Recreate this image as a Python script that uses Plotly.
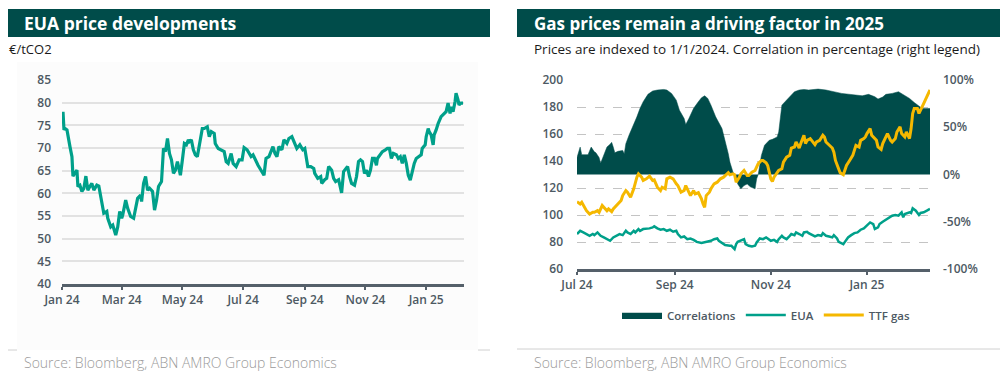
import plotly.graph_objects as go

# ---------------- Data: left chart (EUA price, EUR/tCO2) ----------------
eua_dates = [
    "2024-01-02", "2024-01-03", "2024-01-04", "2024-01-06", "2024-01-09", "2024-01-11", "2024-01-12",
    "2024-01-14", "2024-01-16", "2024-01-17", "2024-01-19", "2024-01-21", "2024-01-23", "2024-01-25",
    "2024-01-27", "2024-01-29", "2024-01-31", "2024-02-02", "2024-02-05", "2024-02-07", "2024-02-10",
    "2024-02-12", "2024-02-15", "2024-02-16", "2024-02-19", "2024-02-21", "2024-02-24", "2024-02-26",
    "2024-02-28", "2024-03-01", "2024-03-02", "2024-03-05", "2024-03-07", "2024-03-10", "2024-03-13",
    "2024-03-15", "2024-03-17", "2024-03-20", "2024-03-21", "2024-03-23", "2024-03-25", "2024-03-27",
    "2024-03-29", "2024-04-01", "2024-04-03", "2024-04-05", "2024-04-07", "2024-04-10", "2024-04-12",
    "2024-04-14", "2024-04-16", "2024-04-18", "2024-04-20", "2024-04-22", "2024-04-24", "2024-04-26",
    "2024-04-28", "2024-04-29", "2024-05-01", "2024-05-03", "2024-05-05", "2024-05-07", "2024-05-08",
    "2024-05-10", "2024-05-12", "2024-05-14", "2024-05-16", "2024-05-18", "2024-05-21", "2024-05-23",
    "2024-05-26", "2024-05-28", "2024-05-30", "2024-06-02", "2024-06-03", "2024-06-06", "2024-06-09",
    "2024-06-12", "2024-06-14", "2024-06-16", "2024-06-19", "2024-06-21", "2024-06-24", "2024-06-27",
    "2024-06-30", "2024-07-02", "2024-07-05", "2024-07-09", "2024-07-11", "2024-07-13", "2024-07-16",
    "2024-07-19", "2024-07-22", "2024-07-24", "2024-07-27", "2024-07-31", "2024-08-02", "2024-08-04",
    "2024-08-06", "2024-08-09", "2024-08-11", "2024-08-14", "2024-08-16", "2024-08-19", "2024-08-21",
    "2024-08-24", "2024-08-27", "2024-08-30", "2024-09-01", "2024-09-04", "2024-09-07", "2024-09-10",
    "2024-09-11", "2024-09-14", "2024-09-17", "2024-09-18", "2024-09-21", "2024-09-23", "2024-09-25",
    "2024-09-28", "2024-09-30", "2024-10-02", "2024-10-05", "2024-10-07", "2024-10-08", "2024-10-10",
    "2024-10-12", "2024-10-14", "2024-10-16", "2024-10-18", "2024-10-21", "2024-10-23", "2024-10-25",
    "2024-10-27", "2024-10-29", "2024-10-31", "2024-11-02", "2024-11-04", "2024-11-06", "2024-11-08",
    "2024-11-10", "2024-11-12", "2024-11-13", "2024-11-16", "2024-11-18", "2024-11-21", "2024-11-23",
    "2024-11-25", "2024-11-27", "2024-11-29", "2024-12-02", "2024-12-04", "2024-12-06", "2024-12-08",
    "2024-12-10", "2024-12-12", "2024-12-14", "2024-12-16", "2024-12-18", "2024-12-20", "2024-12-22",
    "2024-12-25", "2024-12-27", "2024-12-28", "2024-12-31", "2025-01-01", "2025-01-03", "2025-01-04",
    "2025-01-06", "2025-01-08", "2025-01-09", "2025-01-11", "2025-01-13", "2025-01-16", "2025-01-19",
    "2025-01-21", "2025-01-23", "2025-01-25", "2025-01-26", "2025-01-28", "2025-01-30", "2025-01-31",
    "2025-02-02", "2025-02-03", "2025-02-05", "2025-02-07",
]
eua_values = [
    78.0, 74.0, 74.3, 74.0, 70.3, 68.1, 63.8,
    64.4, 65.1, 61.5, 61.8, 60.4, 61.1, 63.8,
    60.7, 61.5, 62.2, 60.7, 61.8, 61.6, 57.8,
    55.6, 56.0, 54.5, 52.6, 53.0, 50.8, 52.6,
    56.0, 54.5, 55.2, 58.5, 56.7, 54.9, 54.5,
    57.1, 58.9, 59.6, 58.2, 62.2, 63.7, 60.7,
    61.1, 60.4, 56.3, 58.5, 61.5, 62.6, 69.9,
    69.2, 72.1, 68.8, 67.4, 64.4, 65.1, 67.0,
    65.1, 64.0, 67.4, 71.0, 70.7, 71.8, 71.4,
    71.8, 69.6, 68.5, 68.1, 70.3, 74.3, 74.3,
    74.7, 72.5, 73.6, 73.2, 71.0, 69.9, 69.6,
    69.2, 67.0, 66.6, 68.8, 66.6, 65.9, 67.4,
    67.4, 70.1, 69.6, 68.1, 68.5, 67.4, 66.2,
    65.1, 64.0, 67.7, 68.1, 70.3, 68.8, 68.1,
    70.3, 69.6, 71.8, 71.0, 72.1, 72.5, 71.4,
    69.9, 70.7, 69.6, 69.9, 65.9, 65.9, 65.5,
    64.4, 63.3, 63.7, 62.2, 63.0, 63.3, 65.9,
    65.1, 63.3, 62.6, 63.0, 61.1, 60.1, 64.8,
    65.5, 65.9, 63.7, 62.2, 61.8, 63.7, 67.0,
    67.4, 67.0, 64.4, 65.1, 63.7, 65.1, 67.7,
    67.7, 66.2, 67.7, 68.5, 69.2, 69.6, 69.9,
    69.9, 67.7, 68.8, 68.5, 67.7, 68.1, 66.6,
    68.5, 66.6, 64.0, 62.9, 65.1, 66.6, 67.7,
    68.1, 68.5, 69.9, 70.7, 72.5, 74.3, 73.6,
    72.9, 70.7, 72.9, 74.0, 75.4, 76.9, 77.6,
    78.0, 79.9, 77.6, 79.1, 78.0, 80.2, 82.1,
    80.6, 79.5, 79.9, 79.9,
]
left_y_ticks = [40, 45, 50, 55, 60, 65, 70, 75, 80, 85]

# ---------------- Data: right chart ----------------
corr_dates = [
    "2024-07-01", "2024-07-02", "2024-07-03", "2024-07-04", "2024-07-06", "2024-07-08", "2024-07-10",
    "2024-07-12", "2024-07-13", "2024-07-15", "2024-07-16", "2024-07-18", "2024-07-20", "2024-07-22",
    "2024-07-23", "2024-07-24", "2024-07-25", "2024-07-27", "2024-07-30", "2024-07-31", "2024-08-01",
    "2024-08-03", "2024-08-05", "2024-08-08", "2024-08-10", "2024-08-12", "2024-08-15", "2024-08-18",
    "2024-08-21", "2024-08-25", "2024-08-27", "2024-08-30", "2024-09-02", "2024-09-04", "2024-09-07",
    "2024-09-08", "2024-09-10", "2024-09-13", "2024-09-16", "2024-09-18", "2024-09-20", "2024-09-22",
    "2024-09-24", "2024-09-27", "2024-10-01", "2024-10-03", "2024-10-05", "2024-10-06", "2024-10-08",
    "2024-10-09", "2024-10-11", "2024-10-13", "2024-10-15", "2024-10-17", "2024-10-19", "2024-10-22",
    "2024-10-23", "2024-10-24", "2024-10-25", "2024-10-26", "2024-10-28", "2024-10-31", "2024-11-02",
    "2024-11-05", "2024-11-06", "2024-11-07", "2024-11-08", "2024-11-10", "2024-11-12", "2024-11-14",
    "2024-11-16", "2024-11-19", "2024-11-22", "2024-11-25", "2024-11-28", "2024-12-01", "2024-12-06",
    "2024-12-10", "2024-12-13", "2024-12-16", "2024-12-20", "2024-12-25", "2024-12-29", "2025-01-02",
    "2025-01-06", "2025-01-08", "2025-01-11", "2025-01-13", "2025-01-17", "2025-01-21", "2025-01-24",
    "2025-01-28", "2025-01-31", "2025-02-03", "2025-02-05", "2025-02-07", "2025-02-10",
]
corr_values = [
    18, 25, 29, 21, 21, 21, 29,
    24, 23, 18, 12, 21, 29, 32,
    34, 29, 23, 24.5, 25.5, 22, 32.6,
    41.5, 48.6, 61, 70, 77, 84.8, 88.3,
    89.4, 90, 89.4, 85.8, 78.7, 68, 59.2,
    52.8, 59.2, 70, 77, 81.2, 83.3, 80.5,
    73.4, 61, 48.6, 36.2, 22, 13.1, 2.5,
    0, -10, -15.2, -11.7, -10, -13, -15.2,
    -4.6, 0, 11.3, 20.2, 30.9, 36.2, 37.2,
    39.7, 45, 62.8, 73.4, 77, 80.5, 84,
    87.6, 89.4, 90, 89.4, 90, 90.4, 89.4,
    88.3, 86.9, 85.8, 84.8, 84, 83.3, 84.8,
    82.3, 79.8, 82, 84.8, 85.8, 87.6, 84.8,
    80.5, 76.2, 72.7, 69.9, 69.9, 69.9,
]

ttf_dates = [
    "2024-07-01", "2024-07-03", "2024-07-04", "2024-07-06", "2024-07-07", "2024-07-09", "2024-07-11",
    "2024-07-12", "2024-07-14", "2024-07-15", "2024-07-17", "2024-07-18", "2024-07-20", "2024-07-21",
    "2024-07-23", "2024-07-24", "2024-07-26", "2024-07-28", "2024-07-29", "2024-07-30", "2024-08-01",
    "2024-08-02", "2024-08-04", "2024-08-06", "2024-08-07", "2024-08-08", "2024-08-09", "2024-08-11",
    "2024-08-12", "2024-08-14", "2024-08-16", "2024-08-18", "2024-08-19", "2024-08-21", "2024-08-23",
    "2024-08-24", "2024-08-26", "2024-08-27", "2024-08-29", "2024-08-31", "2024-09-02", "2024-09-03",
    "2024-09-05", "2024-09-07", "2024-09-08", "2024-09-09", "2024-09-11", "2024-09-13", "2024-09-14",
    "2024-09-16", "2024-09-18", "2024-09-19", "2024-09-20", "2024-09-21", "2024-09-23", "2024-09-24",
    "2024-09-26", "2024-09-28", "2024-09-30", "2024-10-02", "2024-10-05", "2024-10-06", "2024-10-08",
    "2024-10-09", "2024-10-10", "2024-10-12", "2024-10-13", "2024-10-15", "2024-10-17", "2024-10-18",
    "2024-10-20", "2024-10-22", "2024-10-24", "2024-10-26", "2024-10-27", "2024-10-29", "2024-10-30",
    "2024-11-01", "2024-11-02", "2024-11-03", "2024-11-05", "2024-11-06", "2024-11-08", "2024-11-09",
    "2024-11-11", "2024-11-13", "2024-11-14", "2024-11-16", "2024-11-17", "2024-11-19", "2024-11-20",
    "2024-11-22", "2024-11-23", "2024-11-24", "2024-11-26", "2024-11-28", "2024-11-29", "2024-11-30",
    "2024-12-02", "2024-12-04", "2024-12-05", "2024-12-06", "2024-12-08", "2024-12-10", "2024-12-11",
    "2024-12-12", "2024-12-14", "2024-12-15", "2024-12-17", "2024-12-18", "2024-12-19", "2024-12-21",
    "2024-12-23", "2024-12-24", "2024-12-25", "2024-12-27", "2024-12-28", "2024-12-30", "2024-12-31",
    "2025-01-01", "2025-01-03", "2025-01-04", "2025-01-06", "2025-01-07", "2025-01-08", "2025-01-10",
    "2025-01-11", "2025-01-13", "2025-01-14", "2025-01-16", "2025-01-17", "2025-01-19", "2025-01-20",
    "2025-01-22", "2025-01-23", "2025-01-25", "2025-01-26", "2025-01-28", "2025-01-29", "2025-01-30",
    "2025-01-31", "2025-02-02", "2025-02-03", "2025-02-05", "2025-02-06", "2025-02-08", "2025-02-10",
]
ttf_values = [
    109.9, 108.2, 109.4, 105.7, 103.2, 100.7, 102.0,
    102.0, 103.2, 102.0, 107.0, 105.7, 103.2, 104.5,
    102.5, 104.5, 107.0, 109.4, 110.7, 114.4, 118.1,
    116.9, 113.2, 119.4, 124.3, 128.0, 130.5, 128.0,
    125.6, 126.8, 128.8, 125.6, 126.0, 120.6, 118.1,
    120.6, 119.4, 126.8, 128.0, 126.8, 123.1, 121.8,
    116.9, 118.1, 121.8, 119.4, 114.4, 118.1, 115.6,
    116.5, 111.9, 108.2, 105.7, 114.4, 116.9, 119.4,
    123.1, 124.3, 126.8, 128.0, 131.3, 129.8, 130.5,
    129.8, 124.3, 128.0, 130.5, 133.0, 129.3, 129.3,
    131.7, 133.0, 138.0, 140.4, 140.4, 138.7, 136.7,
    126.8, 124.8, 128.0, 131.7, 133.0, 134.2, 139.2,
    142.9, 144.2, 149.6, 150.4, 154.1, 149.6, 152.9,
    159.1, 152.9, 155.3, 156.6, 154.1, 152.1, 154.1,
    155.3, 159.1, 157.8, 154.1, 151.6, 149.6, 146.6,
    140.4, 134.2, 131.3, 129.8, 133.0, 136.7, 140.4,
    144.2, 147.9, 151.6, 150.4, 155.3, 156.6, 157.8,
    160.3, 164.0, 159.1, 156.6, 155.3, 150.4, 148.6,
    152.9, 157.8, 160.3, 155.3, 154.1, 156.6, 161.5,
    165.3, 160.3, 157.8, 161.5, 156.6, 164.0, 175.2,
    178.9, 178.9, 175.2, 180.1, 182.6, 188.8, 192.6,
]

eua_idx_dates = [
    "2024-07-01", "2024-07-03", "2024-07-05", "2024-07-07", "2024-07-09", "2024-07-11", "2024-07-12",
    "2024-07-14", "2024-07-16", "2024-07-18", "2024-07-20", "2024-07-22", "2024-07-24", "2024-07-26",
    "2024-07-28", "2024-07-30", "2024-08-01", "2024-08-02", "2024-08-04", "2024-08-06", "2024-08-07",
    "2024-08-09", "2024-08-10", "2024-08-12", "2024-08-14", "2024-08-16", "2024-08-18", "2024-08-19",
    "2024-08-21", "2024-08-23", "2024-08-25", "2024-08-27", "2024-08-29", "2024-08-31", "2024-09-02",
    "2024-09-03", "2024-09-05", "2024-09-07", "2024-09-09", "2024-09-11", "2024-09-13", "2024-09-15",
    "2024-09-18", "2024-09-20", "2024-09-22", "2024-09-24", "2024-09-26", "2024-09-28", "2024-09-29",
    "2024-10-01", "2024-10-03", "2024-10-06", "2024-10-07", "2024-10-09", "2024-10-10", "2024-10-11",
    "2024-10-13", "2024-10-15", "2024-10-16", "2024-10-18", "2024-10-20", "2024-10-22", "2024-10-23",
    "2024-10-25", "2024-10-27", "2024-10-29", "2024-10-30", "2024-11-01", "2024-11-03", "2024-11-05",
    "2024-11-06", "2024-11-08", "2024-11-09", "2024-11-11", "2024-11-13", "2024-11-14", "2024-11-16",
    "2024-11-17", "2024-11-19", "2024-11-21", "2024-11-22", "2024-11-24", "2024-11-25", "2024-11-27",
    "2024-11-29", "2024-12-01", "2024-12-03", "2024-12-04", "2024-12-06", "2024-12-08", "2024-12-10",
    "2024-12-11", "2024-12-13", "2024-12-14", "2024-12-17", "2024-12-18", "2024-12-20", "2024-12-22",
    "2024-12-24", "2024-12-26", "2024-12-28", "2024-12-30", "2025-01-01", "2025-01-03", "2025-01-05",
    "2025-01-06", "2025-01-08", "2025-01-09", "2025-01-11", "2025-01-13", "2025-01-15", "2025-01-17",
    "2025-01-19", "2025-01-21", "2025-01-23", "2025-01-24", "2025-01-25", "2025-01-28", "2025-01-29",
    "2025-01-30", "2025-02-01", "2025-02-03", "2025-02-04", "2025-02-06", "2025-02-08", "2025-02-10",
]
eua_idx_values = [
    85.9, 88.3, 87.1, 85.9, 84.6, 85.9, 85.1,
    87.1, 84.6, 83.4, 82.1, 80.9, 83.4, 84.6,
    85.9, 85.1, 88.3, 87.1, 85.9, 88.3, 87.1,
    89.6, 88.3, 89.6, 89.6, 90.1, 90.8, 91.6,
    90.1, 89.1, 89.6, 88.3, 89.1, 87.6, 88.3,
    85.9, 83.4, 84.1, 82.1, 82.6, 81.6, 80.1,
    79.2, 79.7, 80.1, 80.9, 82.1, 82.6, 80.9,
    79.2, 77.7, 77.2, 77.2, 74.7, 78.4, 80.1,
    80.9, 82.1, 78.4, 77.2, 76.7, 77.2, 79.7,
    82.6, 82.1, 83.4, 82.6, 80.9, 81.6, 80.1,
    82.1, 84.6, 83.4, 82.1, 84.6, 85.9, 85.1,
    87.1, 85.9, 84.6, 87.1, 87.6, 86.6, 85.1,
    84.1, 85.1, 84.6, 86.6, 84.6, 84.1, 83.4,
    85.1, 82.6, 80.1, 78.4, 80.1, 83.4, 85.1,
    86.6, 87.1, 89.1, 90.1, 92.1, 94.5, 93.3,
    89.6, 90.8, 93.3, 95.0, 96.5, 98.3, 99.5,
    100.0, 99.5, 102.0, 98.3, 100.7, 102.0, 101.5,
    105.0, 103.2, 100.0, 101.5, 102.0, 103.2, 104.5,
]
right_y_ticks = [60, 80, 100, 120, 140, 160, 180, 200]
corr_ticks = [-100, -50, 0, 50, 100]
corr_tick_labels = ["-100%", "-50%", "0%", "50%", "100%"]

# ---------------- Styling ----------------
# The page body adds an 8px margin, so the figure is drawn 8px in from the window edge.
OFF = 8
W, H = 1008 - OFF, 377 - OFF
DARK = "#004c4a"
TEAL = "#00a08a"
YELLOW = "#f5b800"
AXIS = "#55606a"
TICKC = "#4d5963"
FONT = "Open Sans"


def px(x):
    return (x - OFF) / W


def py(y):
    return 1 - (y - OFF) / H


fig = go.Figure()

# Left chart
fig.add_trace(go.Scatter(x=eua_dates, y=eua_values, mode="lines", xaxis="x", yaxis="y",
                         line=dict(color=TEAL, width=3.2), showlegend=False))

# Right chart: correlation area on base axis (y2, right side), prices on overlaying axis (y3, left)
fig.add_trace(go.Scatter(x=corr_dates, y=corr_values, mode="lines", xaxis="x2", yaxis="y2",
                         fill="tozeroy", fillcolor=DARK, line=dict(color=DARK, width=0.5),
                         name="Correlations"))
fig.add_trace(go.Scatter(x=eua_idx_dates, y=eua_idx_values, mode="lines", xaxis="x2", yaxis="y3",
                         line=dict(color=TEAL, width=2.5), name="EUA"))
fig.add_trace(go.Scatter(x=ttf_dates, y=ttf_values, mode="lines", xaxis="x2", yaxis="y3",
                         line=dict(color=YELLOW, width=3), name="TTF gas"))

tickfont = dict(family=FONT, size=12, color=TICKC, weight=600)

fig.update_layout(
    width=W, height=H,
    margin=dict(l=0, r=0, t=0, b=0, autoexpand=False),
    paper_bgcolor="white", plot_bgcolor="rgba(0,0,0,0)",
    font=dict(family=FONT),
    xaxis=dict(domain=[px(62), px(464)], range=["2024-01-01", "2025-02-08"], type="date",
               tickformat="%b %y", dtick="M2", tick0="2024-01-01",
               showgrid=False, showline=True, linecolor=AXIS, linewidth=3,
               ticks="outside", ticklen=3, tickwidth=2, tickcolor=AXIS,
               tickfont=tickfont, anchor="y", zeroline=False, automargin=False),
    yaxis=dict(domain=[py(284), py(80)], range=[40, 85], tickvals=left_y_ticks,
               showgrid=True, gridcolor="#e2e2e2", gridwidth=1.5, zeroline=False,
               tickfont=tickfont, ticklabelstandoff=10, anchor="x", automargin=False),
    xaxis2=dict(domain=[px(577), px(930)], range=["2024-07-01", "2025-02-10"], type="date",
                tickformat="%b %y", dtick="M2", tick0="2024-07-01",
                showgrid=False, showline=True, linecolor=AXIS, linewidth=3,
                ticks="outside", ticklen=3, tickwidth=2, tickcolor=AXIS,
                tickfont=tickfont, anchor="y2", zeroline=False, automargin=False),
    yaxis2=dict(domain=[py(269), py(80)], range=[-100, 100], side="right",
                tickvals=corr_ticks, ticktext=corr_tick_labels, showgrid=False, zeroline=False,
                tickfont=tickfont, ticklabelstandoff=12, anchor="x2", automargin=False),
    yaxis3=dict(domain=[py(269), py(80)], range=[60, 200], tickvals=right_y_ticks,
                overlaying="y2", side="left",
                showgrid=True, gridcolor="#c4c4c4", gridwidth=1, griddash="dash",
                zeroline=False, tickfont=tickfont, ticklabelstandoff=13, anchor="x2",
                automargin=False),
    legend=dict(orientation="h", x=px(766), xanchor="center", y=py(315), yanchor="middle",
                font=dict(family=FONT, size=11.5, color=TICKC, weight=600),
                itemwidth=40, bgcolor="rgba(0,0,0,0)"),
)

shapes = [
    # faint panel behind left chart
    dict(type="rect", xref="paper", yref="paper", x0=px(17), x1=px(478), y0=py(350), y1=py(62),
         fillcolor="#fcfcfc", line=dict(width=0), layer="below"),
    # title bars
    dict(type="rect", xref="paper", yref="paper", x0=px(7), x1=px(490), y0=py(37), y1=py(9),
         fillcolor=DARK, line=dict(width=0), layer="below"),
    dict(type="rect", xref="paper", yref="paper", x0=px(517), x1=px(1000), y0=py(37), y1=py(9),
         fillcolor=DARK, line=dict(width=0), layer="below"),
    # source separators
    dict(type="line", xref="paper", yref="paper", x0=px(7), x1=px(17), y0=py(350), y1=py(350),
         line=dict(color="#d0d0d0", width=1)),
    dict(type="line", xref="paper", yref="paper", x0=px(478), x1=px(490), y0=py(350), y1=py(350),
         line=dict(color="#d0d0d0", width=1)),
    dict(type="line", xref="paper", yref="paper", x0=px(517), x1=px(1000), y0=py(349), y1=py(349),
         line=dict(color="#d0d0d0", width=1)),
]

annotations = [
    dict(text="EUA price developments", x=px(22), y=py(23), xref="paper", yref="paper",
         xanchor="left", yanchor="middle", showarrow=False,
         font=dict(family=FONT, size=17.5, color="white", weight=700)),
    dict(text="Gas prices remain a driving factor in 2025", x=px(532), y=py(23), xref="paper",
         yref="paper", xanchor="left", yanchor="middle", showarrow=False,
         font=dict(family=FONT, size=17, color="white", weight=700)),
    dict(text="€/tCO2", x=px(7), y=py(49), xref="paper", yref="paper", xanchor="left",
         yanchor="middle", showarrow=False, font=dict(family=FONT, size=13, color="#1a1a1a")),
    dict(text="Prices are indexed to 1/1/2024. Correlation in percentage (right legend)",
         x=px(532), y=py(49), xref="paper", yref="paper", xanchor="left", yanchor="middle",
         showarrow=False, font=dict(family=FONT, size=13.5, color="#1a1a1a")),
    dict(text="Source: Bloomberg, ABN AMRO Group Economics", x=px(22), y=py(362), xref="paper",
         yref="paper", xanchor="left", yanchor="middle", showarrow=False,
         font=dict(family=FONT, size=14, color="#9a9a9a", weight=300)),
    dict(text="Source: Bloomberg, ABN AMRO Group Economics", x=px(532), y=py(362), xref="paper",
         yref="paper", xanchor="left", yanchor="middle", showarrow=False,
         font=dict(family=FONT, size=14, color="#9a9a9a", weight=300)),
]

fig.update_layout(shapes=shapes, annotations=annotations)
fig.write_html("out.html")
